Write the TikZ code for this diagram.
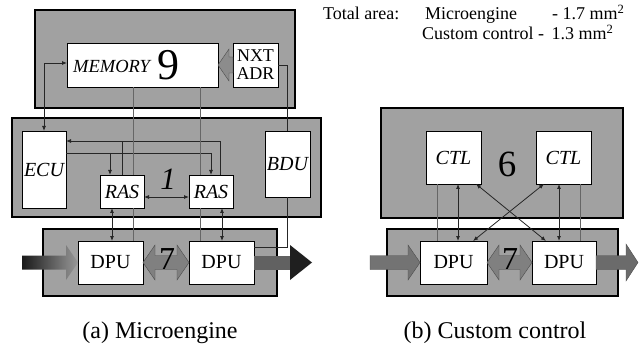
\documentclass[tikz,border=0pt]{standalone}
\usepackage{fontspec}
\setmainfont{Liberation Serif}
\newfontfamily\tms{Liberation Serif}
\usetikzlibrary{arrows.meta}
\definecolor{panelgray}{gray}{0.63}
\begin{document}
\begin{tikzpicture}[x=1pt,y=-1pt,
  panel/.style={draw=black, line width=1.1pt, fill=panelgray, inner sep=0pt, outer sep=0pt},
  wbox/.style={draw=black, line width=0.9pt, fill=white, inner sep=0pt, outer sep=0pt},
  sig/.style={draw=black!85, line width=0.8pt},
  faint/.style={draw=black!60, line width=0.6pt},
  tipb/.style={{Latex[length=5pt,width=4pt]}-{Latex[length=5pt,width=4pt]}},
  tipe/.style={-{Latex[length=5pt,width=4pt]}},
  lbl/.style={font=\tms\fontsize{20}{24}\selectfont, inner sep=0pt},
  ilbl/.style={font=\tms\fontsize{20}{24}\selectfont\itshape, inner sep=0pt},
  toptxt/.style={font=\tms\fontsize{18}{22}\selectfont, inner sep=0pt, anchor=base west},
  blk/.style={draw=black!70, line width=0.4pt},
  bigdig/.style={inner sep=0pt}
]
\useasboundingbox (0,0) rectangle (639,347);

% ---------- panels ----------
\node[panel, minimum width=260pt, minimum height=98pt] (topA) at (165,59) {};
\node[panel, minimum width=309pt, minimum height=99pt] (midA) at (166.5,167.5) {};
\node[panel, minimum width=234pt, minimum height=67pt] (botA) at (160,262.5) {};
\node[panel, minimum width=242pt, minimum height=110pt] (topB) at (502,163) {};
\node[panel, minimum width=231pt, minimum height=67pt] (botB) at (502.5,262.5) {};

% ---------- boxes (a) ----------
\node[wbox, minimum width=151pt, minimum height=44pt] (mem) at (142.5,65) {};
\node[inner sep=0pt, font=\tms\fontsize{18.5}{22}\selectfont\itshape, anchor=west] (memtxt) at (73,66) {MEMORY};
\node[bigdig, font=\tms\fontsize{44}{44}\selectfont] (nine) at (168,65) {9};
\node[wbox, minimum width=45pt, minimum height=44pt, align=center, font=\tms\fontsize{18}{18}\selectfont] (nxt) at (255.5,65) {NXT\\ADR};
\node[wbox, ilbl, minimum width=44pt, minimum height=77pt] (ecu) at (44,169.5) {ECU};
\node[wbox, ilbl, minimum width=45pt, minimum height=66pt] (bdu) at (287.5,164) {BDU};
\node[wbox, ilbl, minimum width=44pt, minimum height=33pt] (ras1) at (122,191.5) {RAS};
\node[wbox, ilbl, minimum width=44pt, minimum height=33pt] (ras2) at (211,191.5) {RAS};
\node[wbox, lbl, minimum width=65pt, minimum height=43pt] (dpu1) at (110.5,262.5) {DPU};
\node[wbox, lbl, minimum width=65pt, minimum height=43pt] (dpu2) at (221.5,262.5) {DPU};
\node[bigdig, font=\tms\fontsize{31}{31}\selectfont\itshape] (one) at (168,179) {1};

% ---------- boxes (b) ----------
\node[wbox, ilbl, minimum width=55pt, minimum height=53pt] (ctl1) at (453.5,157.5) {CTL};
\node[wbox, ilbl, minimum width=55pt, minimum height=53pt] (ctl2) at (563.5,157.5) {CTL};
\node[bigdig, font=\tms\fontsize{37}{37}\selectfont] (six) at (507,164.5) {6};
\node[wbox, lbl, minimum width=67pt, minimum height=43pt] (dpub1) at (453.5,262.5) {DPU};
\node[wbox, lbl, minimum width=64pt, minimum height=43pt] (dpub2) at (564,262.5) {DPU};

% ---------- block arrows (a) ----------
\fill[black!45, blk] (mem.east) -- ++(11,-16) -- ++(0,8) -- ++(4,0) -- ++(0,16) -- ++(-4,0) -- ++(0,8) -- cycle;
\shade[left color=black!90, right color=black!40] (dpu1.west) -- ++(-12,-17.5) -- ++(0,10.5) -- ++(-44,0) -- ++(0,14) -- ++(44,0) -- ++(0,10.5) -- cycle;
\fill[black!50, blk] (dpu1.east) -- ++(12,-17.5) -- ++(0,10.5) -- ++(22,0) -- ++(0,-10.5) -- (dpu2.west) -- ++(-12,17.5) -- ++(0,-10.5) -- ++(-22,0) -- ++(0,10.5) -- cycle;
\fill[black!62] (dpu2.east) ++(0,-7) rectangle ++(37,14);
\fill[black!88] ([xshift=36pt]dpu2.east) -- ++(0,-17.5) -- ++(22,17.5) -- ++(-22,17.5) -- cycle;
\node[bigdig, font=\tms\fontsize{32}{32}\selectfont] (sevA) at (167,259) {7};

% ---------- block arrows (b) ----------
\fill[black!55, blk] (dpub1.west) -- ++(-12,-17.5) -- ++(0,10.5) -- ++(-38,0) -- ++(0,14) -- ++(38,0) -- ++(0,10.5) -- cycle;
\fill[black!50, blk] (dpub1.east) -- ++(12,-17.5) -- ++(0,10.5) -- ++(21,0) -- ++(0,-10.5) -- (dpub2.west) -- ++(-12,17.5) -- ++(0,-10.5) -- ++(-21,0) -- ++(0,10.5) -- cycle;
\fill[black!58, blk] (dpub2.east) -- ++(0,-7) -- ++(30,0) -- ++(0,-11.5) -- ++(12,18.5) -- ++(-12,18.5) -- ++(0,-11.5) -- ++(-30,0) -- cycle;
\node[bigdig, font=\tms\fontsize{32}{32}\selectfont] (sevB) at (510,259) {7};

% ---------- signal lines (a) ----------
\coordinate (busA) at (0,141);
\coordinate (busB) at (0,153);
\coordinate (r1a) at ([xshift=-12pt]ras1.north);
\coordinate (r2c) at ([xshift=9pt]ras2.north);
\coordinate (m1) at ([xshift=11pt]ras1.north);
\coordinate (m2) at ([xshift=-11pt]ras2.north);
\coordinate (r1d) at ([xshift=-10pt]ras1.south);
\coordinate (r2d) at ([xshift=11pt]ras2.south);

\draw[sig, tipb] (ecu.north) |- ([yshift=2pt]mem.west);
\draw[sig] (nxt.east) -| (bdu.north);
\draw[sig, tipe] (r2c) |- (ecu.east |- busA);
\draw[sig] (ras1.north) -- (ras1.north |- busA);
\draw[sig, tipe] (ecu.east |- busB) -| (ras2.north);
\draw[sig, tipe] (r1a |- busB) -- (r1a);
\draw[faint] (m1 |- mem.south) -- (m1);
\draw[faint] (m2 |- mem.south) -- (m2);
\draw[faint] (m1 |- ras1.south) -- (m1 |- dpu1.north);
\draw[faint] (m2 |- ras2.south) -- (m2 |- dpu2.north);
\draw[sig, tipb] (r1d) -- (r1d |- dpu1.north);
\draw[sig, tipb] (r2d) -- (r2d |- dpu2.north);
\draw[sig, tipb] ([yshift=-5.5pt]ras1.east) -- ([yshift=-5.5pt]ras2.west);
\draw[sig] (bdu.south) |- ([yshift=15.5pt]dpu2.east);

% ---------- signal lines (b) ----------
\coordinate (c1t) at ([xshift=-16.5pt]ctl1.south);
\coordinate (c1a) at ([xshift=4.5pt]ctl1.south);
\coordinate (c2a) at ([xshift=-4.5pt]ctl2.south);
\coordinate (c2t) at ([xshift=16.5pt]ctl2.south);
\draw[faint] (c1t) -- (c1t |- dpub1.north);
\draw[sig, tipb] (c1a) -- (c1a |- dpub1.north);
\draw[sig, tipb] (c2a) -- (c2a |- dpub2.north);
\draw[faint] (c2t) -- (c2t |- dpub2.north);
\draw[sig, tipb] ([xshift=22.5pt]ctl1.south) -- ([xshift=-18pt]dpub2.north);
\draw[sig, tipb] ([xshift=-19.5pt]ctl2.south) -- ([xshift=19.5pt]dpub1.north);

% ---------- texts ----------
\node[toptxt] (ta) at (323,20) {Total area:};
\node[toptxt] (me) at (425,20) {Microengine};
\node[toptxt] (mv) at (552,20) {- 1.7 mm\textsuperscript{2}};
\node[toptxt] (cc) at (422,40) {Custom control};
\node[toptxt] (cv) at (538,40) {-\, 1.3 mm\textsuperscript{2}};

\node[anchor=base, inner sep=0pt, font=\tms\fontsize{24}{28}\selectfont] (capA) at (160,338) {(a) Microengine};
\node[anchor=base, inner sep=0pt, font=\tms\fontsize{24}{28}\selectfont] (capB) at (495,338) {(b) Custom control};
\end{tikzpicture}
\end{document}
